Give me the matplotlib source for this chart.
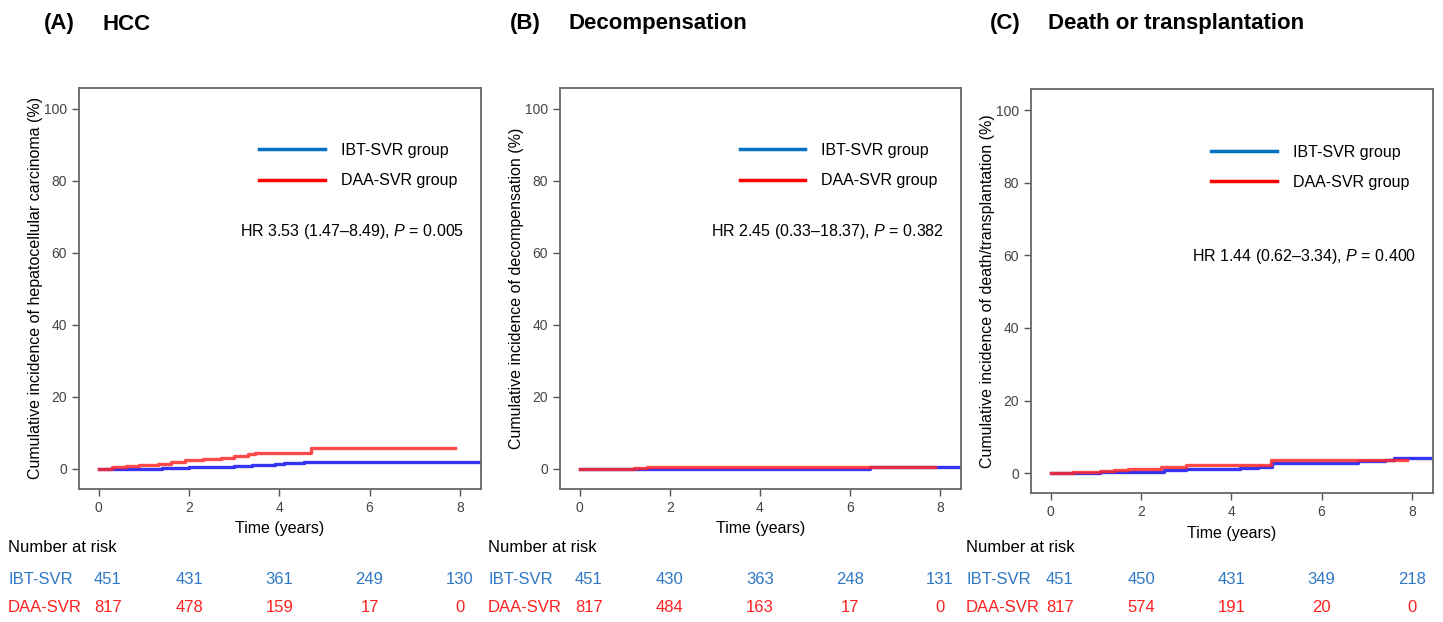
import matplotlib
matplotlib.use("Agg")
import matplotlib.pyplot as plt
from matplotlib.lines import Line2D
from matplotlib.transforms import blended_transform_factory

plt.rcParams['font.family'] = ['Liberation Sans', 'DejaVu Sans']
plt.rcParams['mathtext.fontset'] = 'custom'
plt.rcParams['mathtext.rm'] = 'Liberation Sans'
plt.rcParams['mathtext.it'] = 'Liberation Sans:italic'

# --- données ---
panel_tags = ['(A)', '(B)', '(C)']
panel_names = ['HCC', 'Decompensation', 'Death or transplantation']
ylabels = ['Cumulative incidence of hepatocellular carcinoma (%)',
           'Cumulative incidence of decompensation (%)',
           'Cumulative incidence of death/transplantation (%)']
hr_texts = [r'HR 3.53 (1.47–8.49), $\it{P}$ = 0.005',
            r'HR 2.45 (0.33–18.37), $\it{P}$ = 0.382',
            r'HR 1.44 (0.62–3.34), $\it{P}$ = 0.400']

# courbes d'incidence cumulée (en escalier)
ibt_t = [[0, 1.0, 1.4, 2.0, 2.4, 3.0, 3.4, 3.9, 4.1, 4.55, 8.5],
         [0, 0.5, 1.7, 6.45, 8.5],
         [0, 1.1, 2.5, 3.0, 3.5, 4.2, 4.6, 4.9, 5.5, 6.0, 6.8, 7.4, 7.6, 8.5]]
ibt_y = [[0, 0.1, 0.3, 0.4, 0.6, 0.8, 1.1, 1.3, 1.6, 1.9, 1.9],
         [0, 0.1, 0.1, 0.6, 0.6],
         [0, 0.2, 0.8, 1.1, 1.2, 1.4, 1.6, 2.7, 2.8, 2.9, 3.2, 3.6, 4.2, 4.2]]
daa_t = [[0, 0.3, 0.6, 0.9, 1.3, 1.6, 1.9, 2.3, 2.7, 3.0, 3.3, 3.45, 4.7, 7.9],
         [0, 0.9, 1.2, 1.5, 6.45, 7.9],
         [0, 0.5, 1.1, 1.4, 1.7, 2.0, 2.45, 3.0, 4.0, 4.88, 7.9]]
daa_y = [[0, 0.4, 0.8, 1.1, 1.4, 1.9, 2.4, 2.7, 3.1, 3.5, 4.0, 4.4, 5.8, 5.8],
         [0, 0.1, 0.3, 0.6, 0.6, 0.6],
         [0, 0.3, 0.6, 0.8, 1.0, 1.2, 1.7, 2.1, 2.3, 3.7, 3.7]]

# nombre de sujets à risque
risk_times = [0, 2, 4, 6, 8]
ibt_risk = [[451, 431, 361, 249, 130],
            [451, 430, 363, 248, 131],
            [451, 450, 431, 349, 218]]
daa_risk = [[817, 478, 159, 17, 0],
            [817, 484, 163, 17, 0],
            [817, 574, 191, 20, 0]]

# --- figure ---
fig = plt.figure(figsize=(14.43, 6.22), dpi=100)
W, H = 1443, 622
ax_px = [(79, 87.7, 481, 488.7), (560, 87.7, 961, 488.7), (1031, 89.3, 1433, 493)]
tag_x = [44, 510, 990]
name_x = [102, 568, 1048]
risk_lab_x = [8, 488, 966]
hr_y = [0.642, 0.642, 0.587]

curve_blue, curve_red = '#1010f0', '#ff2a2a'
leg_blue, leg_red = '#0070c0', '#ff0000'
txt_blue, txt_red = '#2f78c4', '#ff2020'

for i in range(3):
    x0, y0, x1, y1 = ax_px[i]
    ax = fig.add_axes([x0 / W, 1 - y1 / H, (x1 - x0) / W, (y1 - y0) / H])

    ax.step(ibt_t[i], ibt_y[i], where='post', color=curve_blue, lw=2.4, alpha=0.85)
    ax.step(daa_t[i], daa_y[i], where='post', color=curve_red, lw=2.4, alpha=0.85)

    ax.set_xlim(-0.44, 8.47)
    ax.set_ylim(-5.5, 105.8)
    ax.set_xticks(range(0, 9, 2))
    ax.set_yticks(range(0, 101, 20))
    ax.tick_params(colors='#555555', labelcolor='#444444', labelsize=10,
                   length=5, width=1)
    for sp in ax.spines.values():
        sp.set_color('#666666')
        sp.set_linewidth(1.3)
    ax.set_xlabel('Time (years)', fontsize=11.5, labelpad=5)
    ax.set_ylabel(ylabels[i], fontsize=11.5)
    ax.yaxis.set_label_coords(-0.09, 0.5)

    handles = [Line2D([], [], color=leg_blue, lw=2.5),
               Line2D([], [], color=leg_red, lw=2.5)]
    ax.legend(handles, ['IBT-SVR group', 'DAA-SVR group'], loc='upper left',
              bbox_to_anchor=(0.413, 0.898), frameon=False, fontsize=11.5,
              handlelength=4.1, handletextpad=1.0, labelspacing=0.95)
    ax.text(0.958, hr_y[i], hr_texts[i], transform=ax.transAxes,
            ha='right', va='center', fontsize=11.5)

    # titre du panneau
    fig.text(tag_x[i] / W, 1 - 24 / H, panel_tags[i], fontsize=16,
             fontweight='bold', va='center')
    fig.text(name_x[i] / W, 1 - 24 / H, panel_names[i], fontsize=16,
             fontweight='bold', va='center')

    # tableau des sujets à risque
    fig.text(risk_lab_x[i] / W, 1 - 548 / H, 'Number at risk', fontsize=12,
             va='center')
    fig.text(risk_lab_x[i] / W, 1 - 580 / H, 'IBT-SVR', fontsize=12,
             va='center', color=txt_blue)
    fig.text(risk_lab_x[i] / W, 1 - 607 / H, 'DAA-SVR', fontsize=12,
             va='center', color=txt_red)
    tr = blended_transform_factory(ax.transData, fig.transFigure)
    for t, nb, nd in zip(risk_times, ibt_risk[i], daa_risk[i]):
        ax.text(t + (0.2 if t == 0 else 0), 1 - 580 / H, str(nb), transform=tr,
                ha='center', va='center', fontsize=12, color=txt_blue)
        ax.text(t + (0.2 if t == 0 else 0), 1 - 607 / H, str(nd), transform=tr,
                ha='center', va='center', fontsize=12, color=txt_red)

plt.savefig('out.png', dpi=100)
